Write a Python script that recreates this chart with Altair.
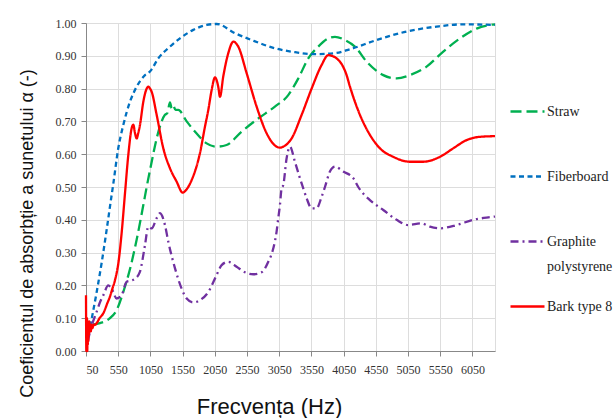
import altair as alt
import pandas as pd

series_names = ["Straw", "Fiberboard", "Graphite polystyrene", "Bark type 8"]
series_colors = ["#00b050", "#0070c0", "#7030a0", "#ff0000"]
series_dashes = [[11, 5], [5, 3.5], [8, 4, 2, 4], [1, 0]]

x_ticks = [50, 550, 1050, 1550, 2050, 2550, 3050, 3550, 4050, 4550, 5050, 5550, 6050]
y_ticks = [0.0, 0.1, 0.2, 0.3, 0.4, 0.5, 0.6, 0.7, 0.8, 0.9, 1.0]

straw_hz = [150, 267, 422, 526, 629, 733, 837, 940, 992, 1070, 1147, 1225, 1276, 1312, 1354, 1380,
            1405, 1440, 1483, 1613, 1768, 1923, 2078, 2233, 2466, 2725, 2983, 3190, 3346, 3501,
            3656, 3811, 3915, 4070, 4225, 4407, 4665, 4872, 5079, 5338, 5597, 5855, 6114, 6321, 6400]
straw_alpha = [0.08, 0.085, 0.10, 0.125, 0.18, 0.25, 0.34, 0.445, 0.50, 0.577, 0.648, 0.70, 0.72,
               0.725, 0.758, 0.74, 0.748, 0.735, 0.735, 0.70, 0.663, 0.633, 0.623, 0.628, 0.669,
               0.709, 0.745, 0.78, 0.831, 0.892, 0.928, 0.953, 0.958, 0.948, 0.928, 0.882, 0.841,
               0.831, 0.841, 0.867, 0.913, 0.953, 0.983, 0.994, 0.996]

fiber_hz = [90, 140, 216, 294, 371, 433, 474, 551, 629, 733, 837, 966, 1043, 1172, 1354, 1509,
            1715, 1923, 2078, 2363, 2622, 2983, 3294, 3604, 3915, 4148, 4562, 5028, 5493, 5907, 6400]
fiber_alpha = [0.05, 0.10, 0.18, 0.27, 0.37, 0.455, 0.51, 0.618, 0.689, 0.76, 0.806, 0.841, 0.852,
               0.892, 0.928, 0.953, 0.979, 0.994, 0.997, 0.969, 0.948, 0.923, 0.911, 0.905, 0.908,
               0.92, 0.948, 0.974, 0.989, 0.996, 0.994]

graph_hz = [80, 112, 160, 216, 270, 319, 396, 448, 526, 603, 681, 760, 810, 888, 966, 1017, 1070,
            1147, 1199, 1276, 1328, 1432, 1535, 1613, 1716, 1819, 1949, 2078, 2156, 2259, 2388,
            2518, 2647, 2777, 2880, 2958, 3009, 3035, 3061, 3087, 3113, 3164, 3216, 3294, 3371,
            3423, 3475, 3553, 3630, 3708, 3760, 3837, 3915, 4044, 4199, 4277, 4458, 4665, 4872,
            5053, 5260, 5389, 5545, 5804, 6062, 6321, 6400]
graph_alpha = [0.03, 0.06, 0.09, 0.12, 0.15, 0.17, 0.20, 0.19, 0.16, 0.17, 0.211, 0.215, 0.22,
               0.242, 0.323, 0.379, 0.374, 0.405, 0.42, 0.384, 0.333, 0.252, 0.19, 0.16, 0.148,
               0.155, 0.18, 0.232, 0.262, 0.272, 0.257, 0.24, 0.234, 0.24, 0.272, 0.313, 0.364,
               0.405, 0.445, 0.496, 0.506, 0.587, 0.623, 0.577, 0.527, 0.496, 0.466, 0.435, 0.435,
               0.47, 0.50, 0.547, 0.562, 0.547, 0.527, 0.50, 0.46, 0.43, 0.40, 0.384, 0.389, 0.379,
               0.374, 0.384, 0.40, 0.408, 0.41]

bark_hz = [50, 55, 58, 62, 66, 70, 74, 78, 82, 86, 90, 95, 100, 108, 116, 125, 135, 150, 170, 190,
           216, 260, 319, 380, 422, 460, 500, 552, 603, 655, 707, 759, 785, 810, 837, 862, 888,
           940, 992, 1017, 1045, 1070, 1147, 1250, 1354, 1458, 1550, 1620, 1690, 1819, 1897, 1949,
           2001, 2052, 2103, 2130, 2181, 2259, 2337, 2414, 2544, 2699, 2854, 3009, 3061, 3113,
           3242, 3398, 3553, 3708, 3811, 3941, 4096, 4148, 4225, 4303, 4458, 4613, 4820, 5079,
           5286, 5545, 5752, 5959, 6166, 6400]
bark_alpha = [0.17, 0.0, 0.09, 0.01, 0.10, 0.0, 0.08, 0.02, 0.09, 0.03, 0.08, 0.05, 0.09, 0.06,
              0.08, 0.06, 0.08, 0.07, 0.08, 0.08, 0.085, 0.10, 0.115, 0.145, 0.166, 0.19, 0.216,
              0.267, 0.359, 0.48, 0.598, 0.679, 0.69, 0.665, 0.648, 0.665, 0.689, 0.76, 0.80,
              0.806, 0.80, 0.79, 0.72, 0.618, 0.557, 0.516, 0.483, 0.495, 0.521, 0.603, 0.684,
              0.735, 0.796, 0.834, 0.806, 0.775, 0.837, 0.908, 0.943, 0.928, 0.847, 0.745, 0.664,
              0.623, 0.620, 0.623, 0.648, 0.72, 0.80, 0.872, 0.902, 0.892, 0.841, 0.806, 0.76,
              0.72, 0.659, 0.618, 0.592, 0.577, 0.577, 0.592, 0.618, 0.643, 0.653, 0.655]

frames = []
for name, hz, al in [("Straw", straw_hz, straw_alpha), ("Fiberboard", fiber_hz, fiber_alpha),
                     ("Graphite polystyrene", graph_hz, graph_alpha), ("Bark type 8", bark_hz, bark_alpha)]:
    frames.append(pd.DataFrame({"series": name, "hz": hz, "alpha": al, "idx": range(len(hz))}))
df = pd.concat(frames, ignore_index=True)

legend = alt.Legend(
    title=None, orient="none", legendX=423, legendY=70, padding=0,
    symbolType="stroke", symbolSize=1156, symbolStrokeWidth=2.5,
    labelFont="Liberation Serif", labelFontSize=14, labelColor="#222222",
    labelOffset=1, rowPadding=14, labelLimit=200,
    labelExpr="datum.label == 'Graphite polystyrene' ? ['Graphite', 'polystyrene'] : [datum.label, '']",
)

chart = alt.Chart(df).mark_line(strokeWidth=2.3, interpolate="monotone").encode(
    x=alt.X("hz:Q", scale=alt.Scale(domain=[50, 6400], nice=False, zero=False),
            axis=alt.Axis(values=x_ticks, format="d", title="Frecvența (Hz)", titleFont="Liberation Sans",
                          titleFontSize=22, titleFontWeight="normal", titleColor="#111111",
                          titleAlign="center", titleBaseline="alphabetic", titleX=183, titleY=62,
                          labelFont="Liberation Serif", labelFontSize=12, labelColor="#333333",
                          labelPadding=8, grid=True)),
    y=alt.Y("alpha:Q", scale=alt.Scale(domain=[0, 1], nice=False),
            axis=alt.Axis(values=y_ticks, format=".2f",
                          title="Coeficientul de absorbție a sunetului α (-)",
                          titleFont="Liberation Sans", titleFontSize=18, titleFontWeight="normal",
                          titleColor="#111111", titleAngle=-90, titleAlign="center",
                          titleBaseline="alphabetic", titleX=-54, titleY=210,
                          labelFont="Liberation Serif", labelFontSize=12, labelColor="#333333",
                          labelPadding=5, grid=True)),
    color=alt.Color("series:N", scale=alt.Scale(domain=series_names, range=series_colors), legend=legend),
    strokeDash=alt.StrokeDash("series:N", scale=alt.Scale(domain=series_names, range=series_dashes), legend=legend),
    order="idx:Q",
).properties(
    width=409, height=328,
    autosize=alt.AutoSizeParams(type="none"),
    padding={"left": 86, "top": 23, "right": 119, "bottom": 67},
    background="white",
).configure_view(stroke=None).configure_axis(
    gridColor="#d9d9d9", gridWidth=1.5, domainColor="#bfbfbf", domainWidth=1.5,
    tickColor="#bfbfbf", tickSize=5, tickWidth=1.5,
).configure(style={"guide-label": {"lineHeight": 25}})

chart.save("out.html", embed_options={"renderer": "svg", "actions": False})
